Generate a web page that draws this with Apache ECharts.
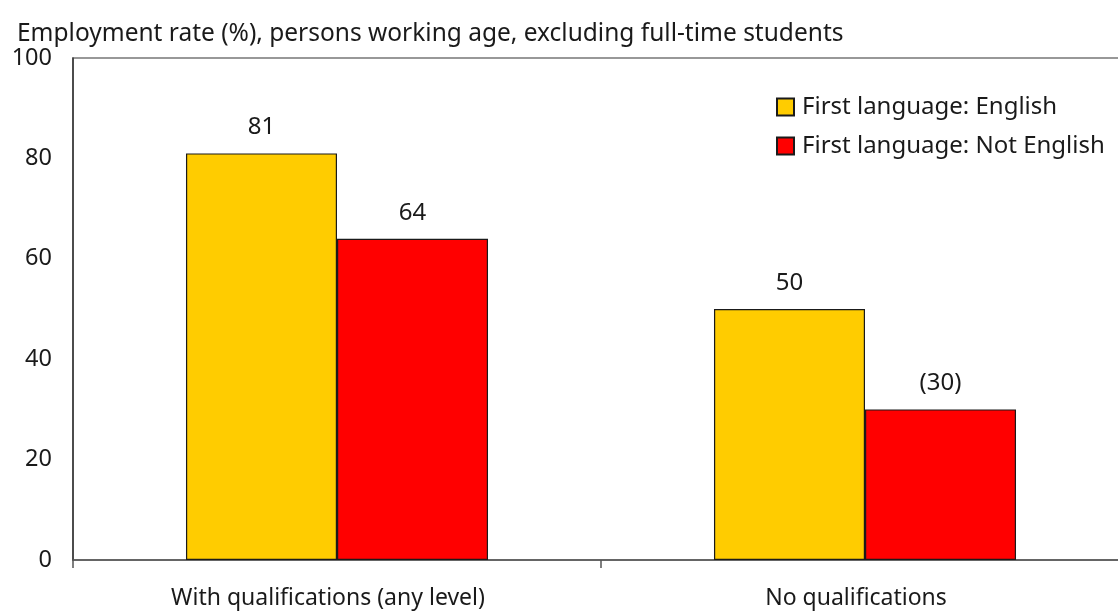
<!DOCTYPE html>
<html>
<head>
<meta charset="utf-8">
<script src="https://cdn.jsdelivr.net/npm/echarts@6/dist/echarts.min.js"></script>
<style>
  html, body { margin: 0; padding: 0; background: #fff; overflow: hidden; }
  #chart { width: 1132px; height: 614px; }
</style>
</head>
<body>
<div id="chart"></div>
<script>
// Employment rate by first language and qualification level
const categories = ['With qualifications (any level)', 'No qualifications'];
const seriesNames = ['First language: English', 'First language: Not English'];
const englishValues = [81, 50];
const notEnglishValues = [64, 30];
const englishLabels = ['81', '50'];
const notEnglishLabels = ['64', '(30)'];
const yTicks = [0, 20, 40, 60, 80, 100];

const FONT = '"Noto Sans", "Open Sans", sans-serif';
const TEXT = '#1a1a1a';

const chart = echarts.init(document.getElementById('chart'), null, { renderer: 'canvas' });

function barSeries(name, values, labels, color) {
  return {
    name: name,
    type: 'bar',
    data: values,
    barGap: '0%',
    barCategoryGap: '42.8%',
    itemStyle: { color: color, borderColor: '#1a1a1a', borderWidth: 1.2 },
    label: {
      show: true,
      position: 'top',
      distance: 14,
      fontFamily: FONT,
      fontSize: 24,
      color: TEXT,
      formatter: p => labels[p.dataIndex]
    },
    emphasis: { disabled: true }
  };
}

chart.setOption({
  animation: false,
  title: {
    text: 'Employment rate (%), persons working age, excluding full-time students',
    left: 12,
    top: 17,
    textStyle: { fontFamily: FONT, fontSize: 24.5, fontWeight: 'normal', color: TEXT }
  },
  legend: {
    data: seriesNames,
    orient: 'vertical',
    left: 771,
    top: 90,
    itemWidth: 17,
    itemHeight: 17,
    itemGap: 15,
    icon: 'rect',
    textStyle: { fontFamily: FONT, fontSize: 24, color: TEXT, padding: [0, 0, 0, 3] }
  },
  grid: {
    left: 73,
    top: 58,
    width: 1056,
    height: 502,
    show: true,
    borderColor: '#777',
    borderWidth: 1.5,
    containLabel: false
  },
  xAxis: {
    type: 'category',
    data: categories,
    axisLine: { lineStyle: { color: '#555', width: 1.5 } },
    axisTick: { show: true, length: 8, alignWithLabel: false, lineStyle: { color: '#555', width: 1.5 } },
    axisLabel: { fontFamily: FONT, fontSize: 23, color: TEXT, margin: 27, padding: [0, 18, 0, 0] }
  },
  yAxis: {
    type: 'value',
    min: 0,
    max: 100,
    interval: 20,
    axisLine: { show: true, lineStyle: { color: '#333', width: 1.5 } },
    axisTick: { show: false },
    splitLine: { show: false },
    axisLabel: {
      fontFamily: FONT, fontSize: 23.5, color: TEXT, margin: 21,
      formatter: v => (yTicks.indexOf(v) >= 0 ? String(v) : '')
    }
  },
  series: [
    barSeries(seriesNames[0], englishValues, englishLabels, '#ffcc00'),
    barSeries(seriesNames[1], notEnglishValues, notEnglishLabels, '#ff0000')
  ]
});
</script>
</body>
</html>
